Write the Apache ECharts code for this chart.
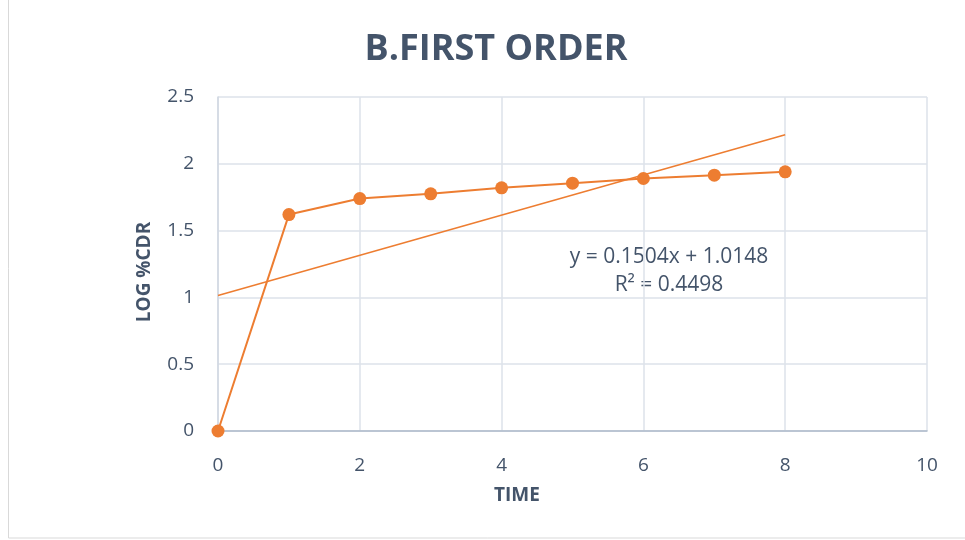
<!DOCTYPE html>
<html>
<head>
<meta charset="utf-8">
<script src="https://cdn.jsdelivr.net/npm/echarts@6/dist/echarts.min.js"></script>
<style>
html,body{margin:0;padding:0;background:#fff;}
#main{width:965px;height:540px;}
</style>
</head>
<body>
<div id="main"></div>
<script>
var timeX = [0, 1, 2, 3, 4, 5, 6, 7, 8];
var logCdr = [0, 1.62, 1.74, 1.775, 1.82, 1.855, 1.89, 1.915, 1.94];
var trendX = [0, 8];
var trendY = [1.0148, 2.2180];
var eqText = ['y = 0.1504x + 1.0148', 'R² = 0.4498'];

var dom = document.getElementById("main");
var myChart = echarts.init(dom);
var pts = [];
for (var i = 0; i < timeX.length; i++) {
    pts.push([timeX[i], logCdr[i]]);
}
var trend = [];
for (var j = 0; j < trendX.length; j++) {
    trend.push([trendX[j], trendY[j]]);
}
var font = '"Open Sans", Lato, sans-serif';
var option = {
    backgroundColor: '#fff',
    textStyle: { fontFamily: font },
    title: {
        text: 'B.FIRST ORDER',
        left: 491,
        top: 27,
        textAlign: 'center',
        textStyle: { fontSize: 36, fontWeight: 'bold', color: '#44546A', fontFamily: font }
    },
    grid: { left: 218, right: 38, top: 97, bottom: 109 },
    xAxis: {
        type: 'value',
        min: 0, max: 10, interval: 2,
        axisLine: { show: true, lineStyle: { color: '#ADB9CA', width: 1.5 } },
        axisTick: { show: false },
        axisLabel: { fontSize: 19, color: '#44546A', margin: 25 },
        splitLine: { show: true, lineStyle: { color: '#DDE2EA', width: 1.5 } }
    },
    yAxis: {
        type: 'value',
        min: 0, max: 2.5, interval: 0.5,
        axisLine: { show: true, lineStyle: { color: '#D0D7E2', width: 1.5 } },
        axisTick: { show: false },
        axisLabel: { fontSize: 19, color: '#44546A', margin: 24 },
        splitLine: { show: true, lineStyle: { color: '#DDE2EA', width: 1.5 } }
    },
    series: [
        {
            name: 'trend',
            type: 'line',
            data: trend,
            symbol: 'none',
            lineStyle: { color: '#ED7D31', width: 1.5 },
            z: 2
        },
        {
            name: 'LOG %CDR',
            type: 'line',
            data: pts,
            symbol: 'circle',
            symbolSize: 13,
            itemStyle: { color: '#ED7D31' },
            lineStyle: { color: '#ED7D31', width: 2 },
            z: 3
        }
    ],
    graphic: [
        {
            type: 'rect',
            shape: { x: 8.5, y: -2, width: 970, height: 540 },
            style: { fill: 'none', stroke: '#D9D9D9', lineWidth: 1 },
            silent: true
        },
        {
            type: 'text',
            x: 517, y: 496,
            style: { text: 'TIME', fontSize: 19, fontWeight: 'bold', fill: '#44546A', fontFamily: font, align: 'center', verticalAlign: 'middle' }
        },
        {
            type: 'text',
            x: 145, y: 272,
            rotation: Math.PI / 2,
            style: { text: 'LOG %CDR', fontSize: 19, fontWeight: 'bold', fill: '#44546A', fontFamily: font, align: 'center', verticalAlign: 'middle' }
        },
        {
            type: 'text',
            x: 669, y: 257,
            style: { text: eqText[0], fontSize: 21, fill: '#44546A', fontFamily: font, align: 'center', verticalAlign: 'middle' }
        },
        {
            type: 'text',
            x: 669, y: 285,
            style: { text: eqText[1], fontSize: 21, fill: '#44546A', fontFamily: font, align: 'center', verticalAlign: 'middle' }
        }
    ]
};
myChart.setOption(option, true);
</script>
</body>
</html>
